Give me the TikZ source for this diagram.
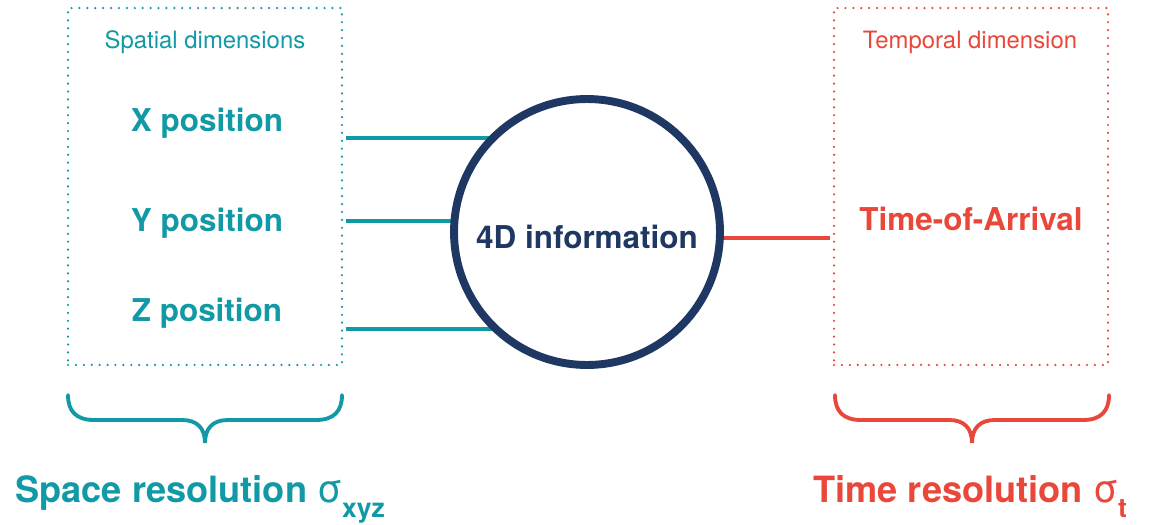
\documentclass[tikz,border=0pt]{standalone}
\usepackage{fontspec}
\setmainfont{TeX Gyre Heros}
\usetikzlibrary{backgrounds}
\definecolor{teal4d}{HTML}{1199A5}
\definecolor{red4d}{HTML}{E9473A}
\definecolor{navy4d}{HTML}{1F3863}
\begin{document}
\begin{tikzpicture}[x=0.02cm,y=-0.02cm,
  dotbox/.style={draw=#1,line width=1.4pt,dash pattern=on 0pt off 4.5pt,line cap=round,inner sep=0pt,minimum width=5.48cm,minimum height=7.14cm},
  dimtext/.style={text=#1,font=\fontsize{13.6}{16}\selectfont,anchor=base},
  postext/.style={text=#1,font=\fontsize{17.9}{20}\selectfont\bfseries,anchor=base},
  link/.style={draw=#1,line width=2pt},
  curly/.style={draw=#1,line width=2.2pt,line cap=round},
  restext/.style={text=#1,font=\fontsize{20.6}{24}\selectfont\bfseries,anchor=base west,inner sep=0pt}]
\useasboundingbox (0,0) rectangle (1173,524);
% dotted boxes
\node[dotbox=teal4d] (spatial) at (205,186.5) {};
\node[dotbox=red4d] (temporal) at (971,186.5) {};
\node[dimtext=teal4d] (spatiallbl) at (205,49) {Spatial dimensions};
\node[dimtext=red4d] (temporallbl) at (970,49) {Temporal dimension};
% positions
\node[postext=teal4d] (xpos) at (207,131) {X position};
\node[postext=teal4d] (ypos) at (207,231.5) {Y position};
\node[postext=teal4d] (zpos) at (207,321.5) {Z position};
\node[postext=red4d] (toa) at (971,230) {Time-of-Arrival};
% center
\node[circle,draw=navy4d,line width=4.5pt,fill=white,minimum size=5.32cm,inner sep=0pt,
  text=navy4d,font=\fontsize{17.9}{20}\selectfont\bfseries] (info) at (587,232)
  {\raisebox{-0.15cm}[0.75em][0.2em]{4D information}};
\coordinate (xl) at (346,138);
\coordinate (yl) at (346,221);
\coordinate (zl) at (346,329);
\coordinate (tl) at (830,238);
\begin{scope}[on background layer]
\draw[link=teal4d] (xl) -- (xl -| info.center);
\draw[link=teal4d] (yl) -- (yl -| info.center);
\draw[link=teal4d] (zl) -- (zl -| info.center);
\draw[link=red4d] (tl -| info.center) -- (tl);
\end{scope}
% braces
\foreach \bx/\col in {68/teal4d,835/red4d}
  \draw[curly=\col] (\bx,395) .. controls +(0,16) and +(-18,0) .. ++(26,25) -- ++(88,0)
    .. controls +(15,0) and +(0,-15) .. ++(23,23) .. controls +(0,-15) and +(-15,0) .. ++(23,-23)
    -- ++(88,0) .. controls +(18,0) and +(0,16) .. ++(26,-25);
% resolutions
\node[restext=teal4d] (spaceres) at (15,502) {Space resolution \textmd{\fontsize{22}{24}\selectfont σ}\raisebox{-9pt}{\fontsize{15.1}{16}\selectfont xyz}};
\node[restext=red4d] (timeres) at (813,502) {Time resolution \textmd{\fontsize{22}{24}\selectfont σ}\raisebox{-9pt}{\fontsize{15.1}{16}\selectfont t}};
\end{tikzpicture}
\end{document}
